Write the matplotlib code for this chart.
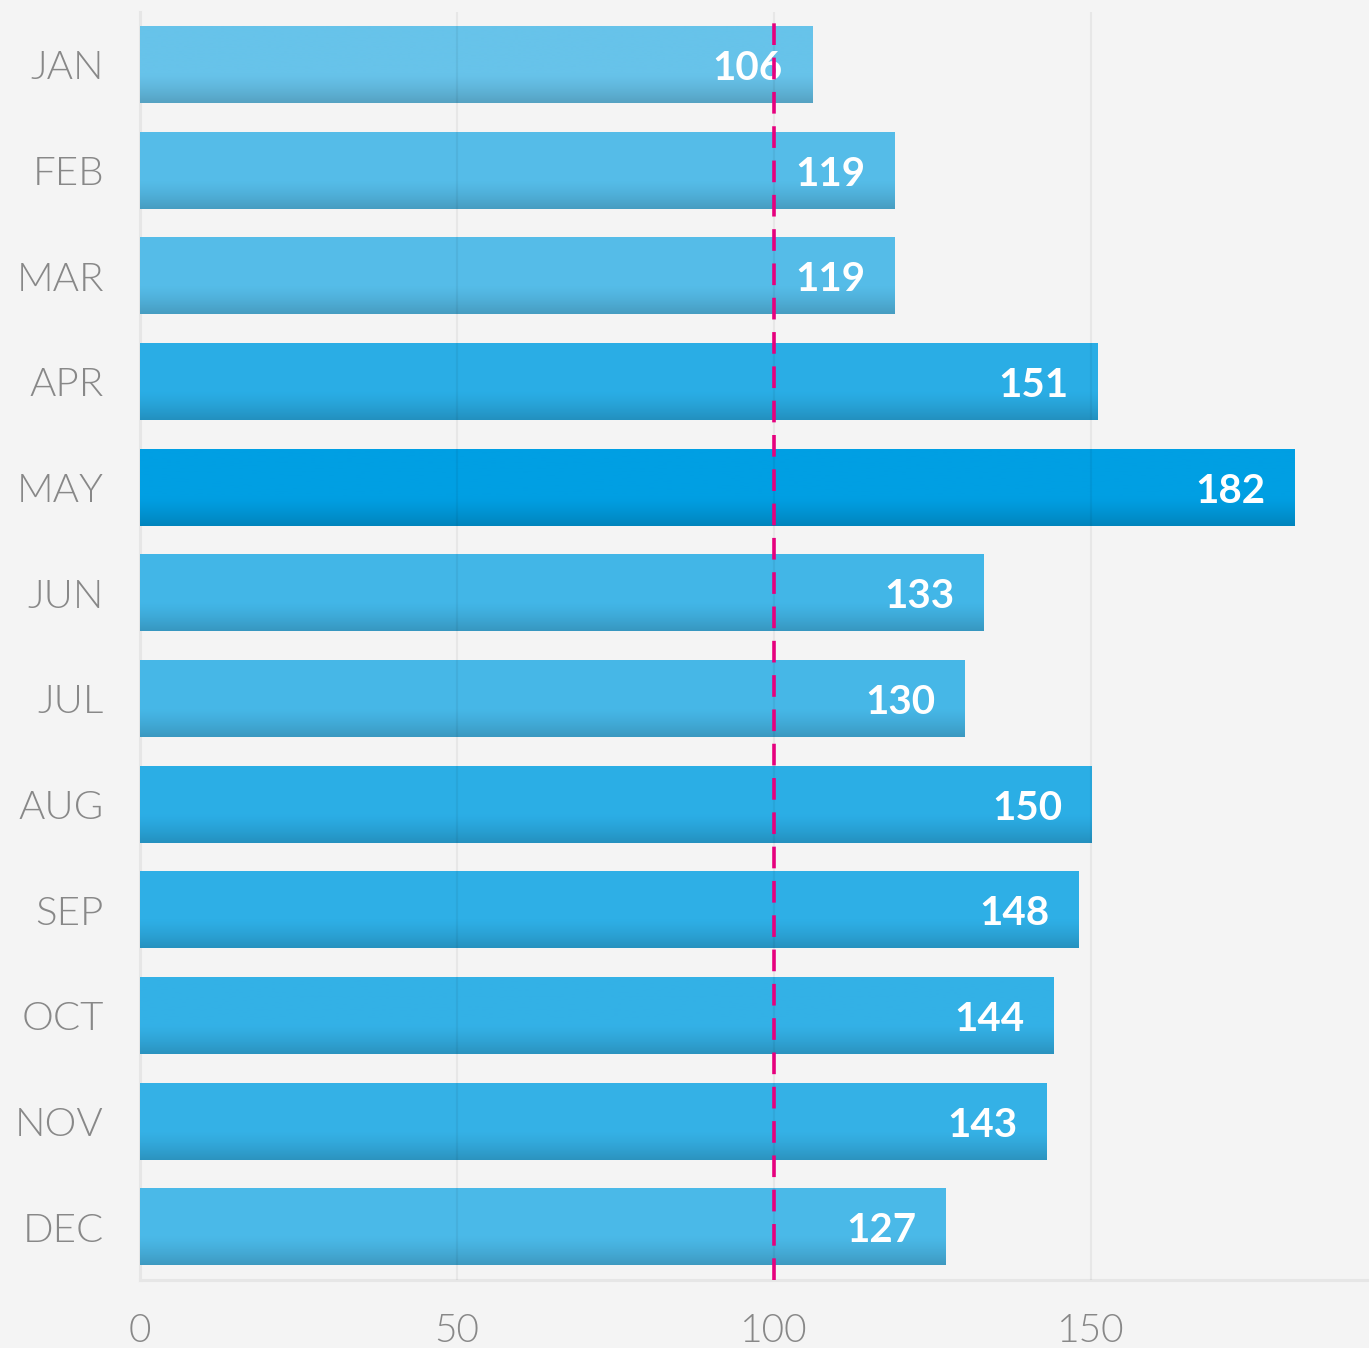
import numpy as np
import matplotlib
matplotlib.use("Agg")
import matplotlib.pyplot as plt
from matplotlib.colors import to_rgb

months = ["JAN", "FEB", "MAR", "APR", "MAY", "JUN",
          "JUL", "AUG", "SEP", "OCT", "NOV", "DEC"]
values = [106, 119, 119, 151, 182, 133, 130, 150, 148, 144, 143, 127]
xticks = [0, 50, 100, 150]
target = 100

plt.rcParams['font.family'] = ['Lato', 'DejaVu Sans']

bg = "#f4f4f4"
light = np.array(to_rgb("#67c3ea"))
dark = np.array(to_rgb("#009fe3"))

fig = plt.figure(figsize=(13.69, 13.48), dpi=100, facecolor=bg)
ax = fig.add_axes([140/1369, 68/1348, 1 - 140/1369, (1280-12)/1348])
ax.set_facecolor(bg)

y = np.arange(len(months))
h = 0.72
vmin, vmax = min(values), max(values)

bars = ax.barh(y, values, height=h, color="none", zorder=2)

# vertical gradient per bar, colour picked from the value
n = 100
ramp = np.linspace(0, 1, n)
shade = 1 - 0.17 * np.clip((ramp - 0.62) / 0.38, 0, 1) ** 1.3
for b, v in zip(bars, values):
    t = (v - vmin) / (vmax - vmin)
    c = light + (dark - light) * t
    img = (c[None, :] * shade[:, None])[:, None, :]
    x0, y0 = b.get_x(), b.get_y()
    ax.imshow(img, extent=(x0, x0 + b.get_width(), y0 + h, y0),
              origin="upper", aspect="auto", interpolation="bilinear", zorder=2)

for yy, v in zip(y, values):
    ax.annotate(str(v), xy=(v, yy), xytext=(-21, 0), textcoords="offset points",
                ha="right", va="center_baseline", color="white",
                fontsize=29, fontweight="bold", zorder=4)

for xt in xticks[1:]:
    ax.axvline(xt, color="#000000", alpha=0.05, lw=1.6, zorder=3)

ax.axvline(target, color="#e6007e", lw=2.6, linestyle=(0, (6, 3.5)), zorder=5)

ax.set_xlim(0, 193.8)
ax.set_ylim(11.5, -0.5)
ax.set_yticks(y)
ax.set_yticklabels(months, fontweight=300, fontsize=29)
ax.set_xticks(xticks)
ax.set_xticklabels([str(t) for t in xticks], fontweight=300, fontsize=28)
ax.tick_params(axis="both", length=0, labelcolor="#888888")
ax.tick_params(axis="y", pad=26)
ax.tick_params(axis="x", pad=24)

for s in ["top", "right"]:
    ax.spines[s].set_visible(False)
for s in ["left", "bottom"]:
    ax.spines[s].set_color("#e6e6e6")
    ax.spines[s].set_linewidth(2.2)
    ax.spines[s].set_zorder(1)

fig.savefig("out.png", dpi=100, facecolor=bg)
